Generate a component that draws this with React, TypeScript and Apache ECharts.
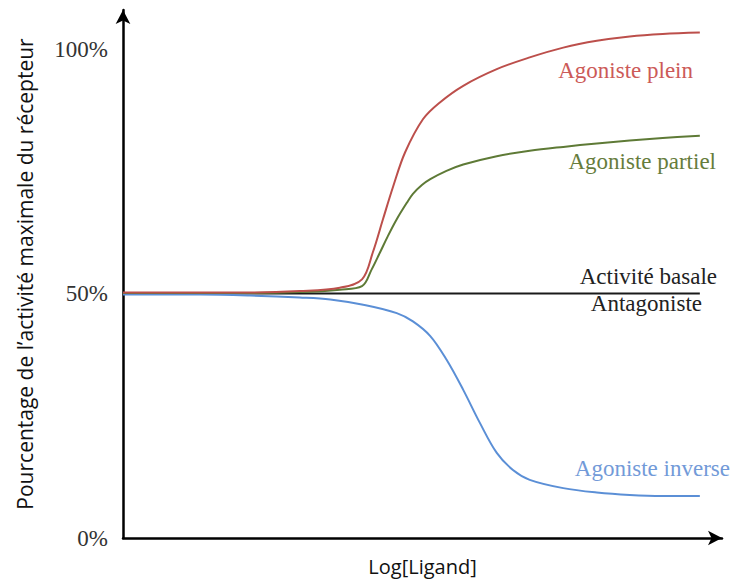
import React, { useEffect, useRef } from "react";
import * as echarts from "echarts";

// Agoniste plein (red)
const pleinX = [0, 21.2, 29.5, 36.2, 39.9, 41.7, 43.4, 45.1, 47.1, 50.1, 52.9, 56.8, 62.4, 67.9, 73.5, 79.1, 84.6, 90.1, 96.3];
const pleinY = [50.2, 50.2, 50.5, 51.2, 52.9, 58.4, 65.2, 71.9, 78.9, 85.7, 89.1, 92.5, 95.9, 98.3, 100.3, 101.7, 102.6, 103.1, 103.4];

// Agoniste partiel (green)
const partielX = [0, 21.2, 29.5, 36.2, 39.9, 41.5, 42.9, 44.2, 45.7, 47.4, 48.4, 49.9, 51.3, 54.0, 56.8, 62.4, 67.9, 73.5, 79.1, 84.6, 90.1, 96.3];
const partielY = [50.1, 50.1, 50.3, 50.8, 51.5, 54.9, 58.4, 61.7, 65.2, 68.6, 70.4, 72.2, 73.4, 75.1, 76.4, 78.1, 79.2, 80.0, 80.7, 81.3, 81.8, 82.3];

// Agoniste inverse (blue)
const inverseX = [0, 12.9, 21.2, 29.5, 34.6, 40.1, 45.7, 48.4, 51.3, 54.0, 56.8, 59.6, 62.4, 65.1, 67.9, 73.5, 79.1, 84.6, 90.1, 96.3];
const inverseY = [49.8, 49.8, 49.6, 49.2, 48.8, 47.7, 46.0, 44.3, 41.3, 36.5, 30.3, 23.5, 17.4, 13.9, 11.9, 10.2, 9.3, 8.8, 8.6, 8.6];

// Activité basale / Antagoniste (black)
const basaleX = [0, 96.3];
const basaleY = [50, 50];

const yTicks = [0, 50, 100];
const yAxisName = "Pourcentage de l\u2019activité maximale du récepteur";
const xAxisName = "Log[Ligand]";

const zip = (xs: number[], ys: number[]) => xs.map((x, i) => [x, ys[i]]);

const serif = "'Liberation Serif', 'DejaVu Serif', serif";
const sans = "'Open Sans', 'Noto Sans', sans-serif";

export default function App() {
  const ref = useRef<HTMLDivElement>(null);
  useEffect(() => {
    if (!ref.current) return;
    const chart = echarts.init(ref.current, null, { renderer: "svg" });
    const lineSeries = (name: string, xs: number[], ys: number[], color: string, width = 2) => ({
      type: "line",
      name,
      data: zip(xs, ys),
      showSymbol: false,
      smooth: 0.35,
      lineStyle: { color, width },
      z: name === "basale" ? 1 : 3,
    });
    const label = (text: string, right: number, top: number, fill: string) => ({
      type: "text",
      right,
      top,
      style: { text, fontFamily: serif, fontSize: 23, fill },
    });
    chart.setOption({
      animation: false,
      backgroundColor: "#ffffff",
      grid: { left: 123, right: 10, top: 10, bottom: 43, containLabel: false, outerBoundsMode: "none" },
      xAxis: {
        type: "value",
        min: 0,
        max: 100,
        name: xAxisName,
        nameLocation: "middle",
        nameGap: 18,
        nameTextStyle: { fontFamily: sans, fontSize: 20, color: "#111" },
        axisLine: { show: true, symbol: ["none", "arrow"], symbolSize: [11, 14], lineStyle: { color: "#000", width: 2.5 } },
        axisTick: { show: false },
        axisLabel: { show: false },
        splitLine: { show: false },
      },
      yAxis: {
        type: "value",
        min: 0,
        max: 108,
        interval: 50,
        name: yAxisName,
        nameLocation: "middle",
        nameGap: 88,
        nameTextStyle: { fontFamily: sans, fontSize: 21, color: "#111" },
        axisLine: { show: true, symbol: ["none", "arrow"], symbolSize: [11, 14], lineStyle: { color: "#000", width: 2.5 } },
        axisTick: { show: false },
        axisLabel: {
          margin: 15,
          fontFamily: serif,
          fontSize: 23,
          color: "#333",
          formatter: (v: number) => (yTicks.includes(v) ? `${v}%` : ""),
        },
        splitLine: { show: false },
      },
      series: [
        lineSeries("basale", basaleX, basaleY, "#1a1a1a", 2),
        lineSeries("Agoniste inverse", inverseX, inverseY, "#5b8fd6", 2),
        lineSeries("Agoniste partiel", partielX, partielY, "#5e7a36", 2),
        lineSeries("Agoniste plein", pleinX, pleinY, "#bc4f4b", 2),
      ],
      graphic: [
        label("Agoniste plein", 39, 59, "#cc5a58"),
        label("Agoniste partiel", 16, 150, "#667c3c"),
        label("Activité basale", 15, 265, "#222"),
        label("Antagoniste", 30, 292, "#222"),
        label("Agoniste inverse", 2, 457, "#729ad8"),
      ],
    });
    return () => chart.dispose();
  }, []);
  return <div ref={ref} style={{ position: "fixed", left: 0, top: 0, width: 732, height: 581 }} />;
}
